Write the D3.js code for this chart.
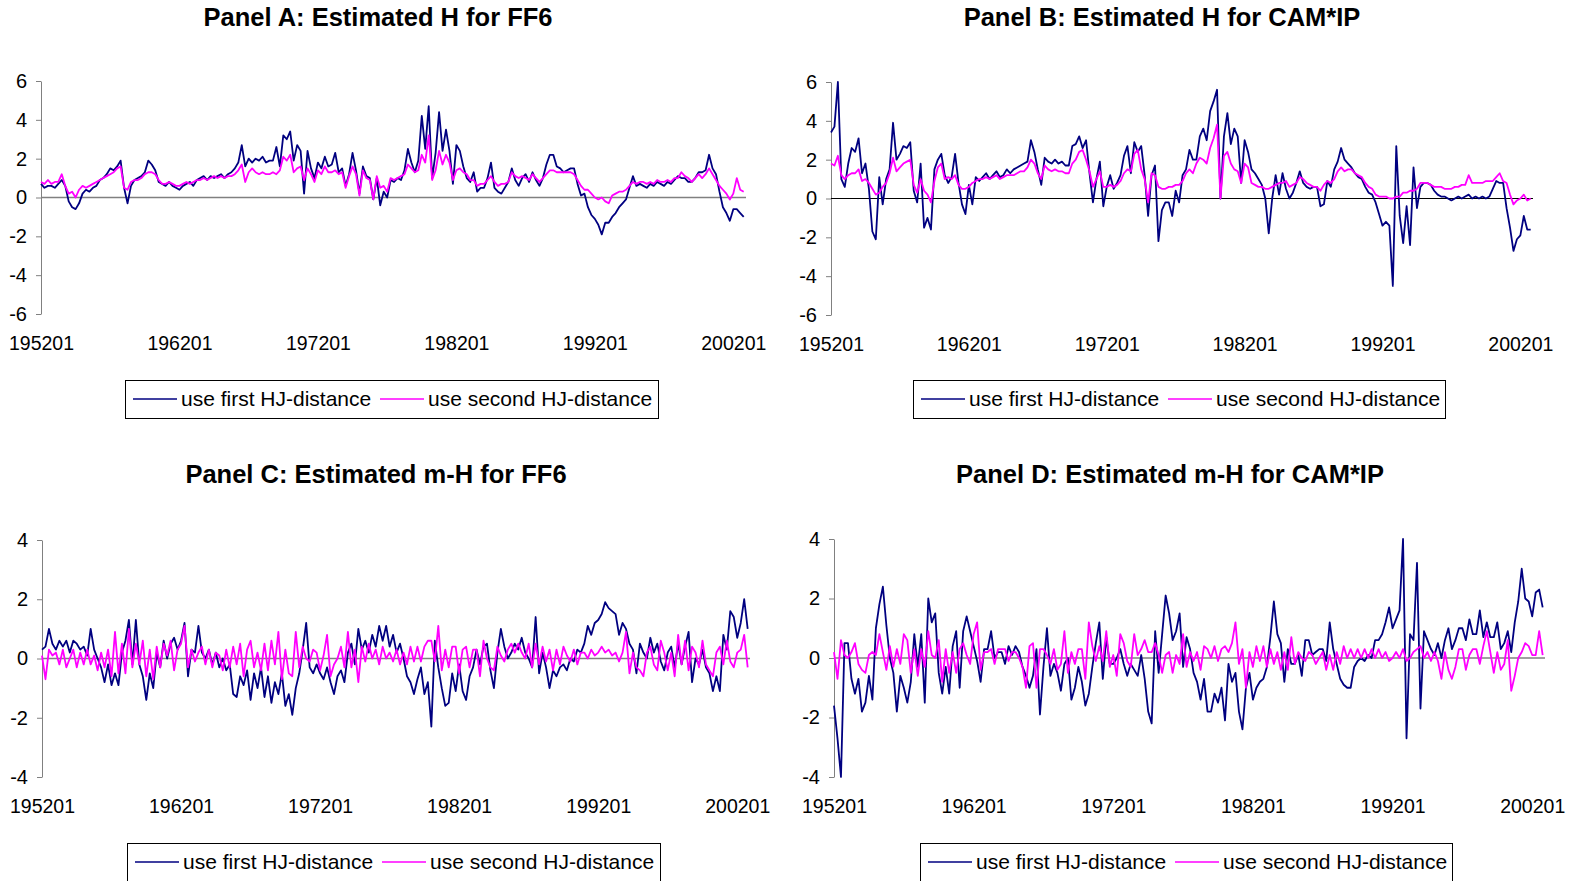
<!DOCTYPE html>
<html>
<head>
<meta charset="utf-8">
<script src="https://cdn.jsdelivr.net/npm/d3@7"></script>
<style>
  body { margin: 0; background: #fff; }
  svg { font-family: Arial, "Liberation Sans", sans-serif; }
</style>
</head>
<body>
<svg id="chart" width="1570" height="881"></svg>
<script>
// quarterly observations, 1952Q1 .. 2002Q4 (204 per series)
const startYear = 1952;
const monthsPerStep = 3;
const lastMonth = 611;
const tickLabels = ['195201', '196201', '197201', '198201', '199201', '200201'];
const seriesNames = ['use first HJ-distance', 'use second HJ-distance'];

const ff6HFirst = [
  0.7,0.5,0.6,0.6, 0.5,0.7,0.9,0.6, -0.2,-0.5,-0.6,-0.3, 0.2,0.4,0.3,0.5, 0.6,0.9,1.0,1.2,
  1.5,1.4,1.6,1.9, 0.5,-0.3,0.6,0.9, 1.0,1.1,1.3,1.9, 1.7,1.4,0.8,0.7, 0.6,0.8,0.6,0.5,
  0.4,0.6,0.7,0.8, 0.6,0.9,1.0,1.1, 0.9,1.1,1.0,1.1, 1.2,1.0,1.2,1.3, 1.5,1.8,2.7,1.6,
  2.0,1.8,2.0,1.9, 2.1,1.8,1.9,1.9, 2.6,1.6,3.2,3.0, 3.4,1.9,2.7,2.4, 0.2,2.4,1.5,1.0,
  1.8,1.5,2.1,1.6, 1.7,2.3,1.3,1.5, 0.6,1.2,2.3,1.4, 0.2,1.6,1.1,1.0, -0.1,1.0,-0.4,0.3,
  0.0,0.9,0.8,1.0, 0.9,1.4,2.5,1.8, 1.3,1.9,4.2,2.5, 4.7,1.0,2.3,4.4, 2.4,3.5,2.4,0.7,
  2.7,2.4,1.6,1.0, 0.8,1.3,0.3,0.5, 0.5,1.0,1.8,0.5, 0.3,0.2,0.5,0.8, 1.5,0.9,0.6,1.0,
  1.2,0.8,1.3,0.9, 0.6,1.0,1.7,2.2, 2.2,1.6,1.5,1.3, 1.4,1.5,1.5,0.7, 0.1,0.2,-0.5,-0.9,
  -1.1,-1.4,-1.9,-1.3, -1.3,-1.0,-0.8,-0.5, -0.3,-0.1,0.5,1.1, 0.6,0.7,0.6,0.5, 0.7,0.6,0.8,0.7,
  0.6,0.8,0.7,0.9, 1.1,1.0,1.0,0.8, 0.8,1.0,1.3,1.3, 1.4,2.2,1.5,1.2, 0.3,-0.5,-0.8,-1.2,
  -0.6,-0.6,-0.8,-1.0
];
const ff6HSecond = [
  0.8,0.7,0.9,0.7, 0.8,0.8,1.2,0.6, 0.2,0.3,0.0,0.4, 0.6,0.5,0.6,0.7, 0.8,0.9,1.0,1.1,
  1.2,1.3,1.5,1.6, 0.5,0.4,0.8,0.9, 0.9,1.0,1.2,1.3, 1.3,1.2,0.9,0.7, 0.7,0.8,0.7,0.6,
  0.6,0.7,0.8,0.7, 0.8,0.9,0.9,1.0, 0.9,1.0,1.1,1.0, 1.1,1.0,1.1,1.1, 1.2,1.4,1.7,0.8,
  1.3,1.5,1.3,1.2, 1.3,1.2,1.2,1.3, 1.2,1.4,2.1,1.9, 2.2,1.3,1.5,1.6, 0.9,1.5,1.2,0.8,
  1.4,1.2,1.6,1.3, 1.3,1.4,1.2,1.3, 0.5,1.1,1.6,1.2, 0.1,1.4,1.0,0.9, -0.1,1.1,0.5,0.6,
  0.3,1.0,0.9,1.0, 1.1,1.2,1.7,1.5, 1.3,1.4,2.2,1.8, 3.2,0.9,1.4,2.4, 1.7,2.2,1.8,0.9,
  1.4,1.5,1.3,1.2, 0.9,0.9,0.6,0.7, 0.7,0.9,1.1,0.8, 0.6,0.7,0.7,0.8, 1.3,1.1,1.0,1.1,
  1.0,0.9,1.2,1.0, 0.8,1.0,1.2,1.4, 1.4,1.3,1.3,1.3, 1.3,1.3,1.2,0.9, 0.6,0.4,0.4,0.2,
  0.0,-0.1,0.0,-0.2, -0.3,0.1,0.2,0.3, 0.3,0.4,0.6,0.8, 0.7,0.8,0.8,0.7, 0.8,0.7,0.9,0.8,
  0.8,0.9,0.8,1.0, 1.0,1.3,1.1,1.0, 0.8,1.0,1.2,1.0, 1.2,1.5,1.2,0.9, 0.6,0.4,0.2,-0.1,
  0.2,1.0,0.4,0.3
];
const camHFirst = [
  3.4,3.7,6.0,1.0, 0.6,1.8,2.6,2.4, 3.1,1.3,1.8,0.5, -1.7,-2.1,1.1,-0.3, 1.0,1.5,3.9,2.0,
  2.3,2.7,2.6,2.9, 0.4,-0.2,1.8,-1.5, -1.0,-1.6,1.5,2.0, 2.3,1.2,0.8,1.1, 2.3,0.8,-0.3,-0.8,
  0.7,-0.3,1.1,0.9, 1.1,1.3,1.0,1.2, 1.4,1.1,1.2,1.5, 1.3,1.5,1.6,1.7, 1.8,1.9,3.0,2.4,
  1.5,0.7,2.1,1.9, 1.8,2.0,1.8,1.9, 1.7,1.7,2.7,2.8, 3.2,2.6,3.0,1.3, -0.2,1.0,1.9,-0.4,
  0.6,1.2,0.5,0.8, 1.2,2.2,2.7,1.3, 2.9,2.4,2.7,1.2, -0.9,1.2,1.7,-2.2, -0.6,-0.2,-0.2,-0.9,
  0.4,-0.2,1.2,1.5, 2.5,2.0,2.0,3.2, 3.6,3.0,4.5,5.0, 5.6,0.0,3.2,4.4, 2.8,3.6,3.2,0.8,
  3.0,2.4,1.5,1.3, 1.0,0.7,0.0,-1.8, 0.0,1.2,0.2,1.3, 0.5,0.0,0.3,0.8, 1.4,0.8,0.6,0.5,
  0.6,0.6,-0.4,-0.3, 0.9,0.6,1.5,1.9, 2.6,2.0,1.8,1.6, 1.3,1.1,1.0,0.6, 0.3,0.2,-0.2,-0.8,
  -1.4,-1.2,-1.4,-4.5, 2.7,-0.9,-2.3,-0.4, -2.4,1.6,-0.5,0.6, 0.8,0.8,0.7,0.4, 0.2,0.1,0.1,0.0,
  -0.1,0.0,0.1,0.0, 0.1,0.2,0.0,0.1, 0.0,0.1,0.0,0.1, 0.5,0.9,0.8,0.8, -0.5,-1.5,-2.7,-2.1,
  -1.9,-0.9,-1.6,-1.6
];
const camHSecond = [
  1.8,1.7,2.2,1.2, 1.0,1.2,1.3,1.3, 1.5,0.9,1.0,0.8, 0.5,0.2,0.3,0.6, 0.8,1.3,2.1,1.4,
  1.6,1.8,1.9,2.0, 0.7,0.3,1.0,0.4, 0.2,-0.2,0.9,1.6, 1.8,1.0,1.1,1.0, 1.2,0.7,0.5,0.5,
  0.6,0.8,0.9,1.0, 1.0,1.1,1.0,1.1, 1.2,1.0,1.1,1.2, 1.2,1.2,1.3,1.4, 1.4,1.6,2.0,1.8,
  1.3,1.0,1.7,1.5, 1.4,1.5,1.4,1.4, 1.3,1.3,1.8,2.0, 2.4,2.5,2.0,1.4, 0.6,1.0,1.4,0.6,
  0.6,0.7,0.6,0.7, 0.9,1.3,1.5,1.4, 2.3,2.5,1.5,1.0, -0.2,1.3,1.2,0.6, 0.5,0.5,0.6,0.6,
  0.7,0.7,0.9,1.3, 1.5,1.3,1.8,2.1, 2.0,1.8,2.6,3.1, 3.8,0.0,2.2,2.4, 1.8,1.5,1.4,0.8,
  1.8,1.6,0.8,0.7, 0.6,0.6,0.5,0.5, 0.6,0.7,0.8,0.8, 0.9,0.6,0.7,0.8, 1.1,1.0,0.8,0.7,
  0.6,0.6,0.4,0.7, 0.9,0.8,1.0,1.4, 1.6,1.4,1.5,1.5, 1.3,1.2,1.1,0.8, 0.6,0.5,0.2,0.1,
  0.1,0.1,0.0,0.0, 0.1,0.1,0.3,0.3, 0.4,0.4,0.5,0.8, 0.8,0.8,0.7,0.6, 0.6,0.6,0.5,0.5,
  0.5,0.6,0.6,0.7, 0.7,1.2,0.8,0.8, 0.8,0.8,0.9,0.9, 0.9,1.1,1.3,0.9, 0.8,0.2,-0.3,-0.1,
  0.0,0.2,-0.1,0.0
];
const ff6MHFirst = [
  0.3,0.4,1.0,0.5, 0.3,0.6,0.4,0.6, 0.2,0.6,0.5,0.3, 0.4,0.1,1.0,0.3, 0.0,-0.3,-0.8,-0.2,
  -0.9,-0.5,-0.9,0.2, 0.6,1.3,-0.2,1.3, -0.2,-0.6,-1.4,-0.5, -1.0,0.2,-0.3,0.6, 0.0,0.5,0.7,0.3,
  0.6,1.2,-0.6,0.3, 0.2,1.1,0.2,0.0, 0.3,-0.2,0.2,-0.3, 0.0,-0.4,-0.2,-1.2, -1.3,-0.6,-0.9,-0.4,
  -1.4,-0.5,-1.0,-0.3, -1.3,-0.6,-1.5,-0.8, -1.2,-0.5,-1.6,-1.2, -1.9,-1.0,-0.5,0.3, 1.2,-0.3,-0.5,-0.2,
  -0.5,-0.7,-0.3,-0.8, -1.2,-0.6,-0.4,-0.8, 0.2,0.5,-0.2,1.0, 0.3,0.6,0.2,0.8, 0.4,1.1,0.6,1.1,
  0.4,0.8,0.2,0.5, 0.0,-0.6,-0.8,-1.2, -0.7,-0.3,-1.2,-0.8, -2.3,0.6,-0.3,-1.0, -1.6,-1.5,-0.5,-1.1,
  -0.2,-1.1,-1.4,-0.6, -0.3,0.3,-0.2,0.4, 0.5,-0.4,-1.0,0.2, 1.0,0.4,0.0,0.2, 0.5,0.3,0.7,0.2,
  0.0,-0.3,1.4,-0.5, 0.2,-0.3,-1.0,-0.4, -0.6,-0.3,-0.2,-0.4, 0.0,-0.1,0.3,0.2, 0.5,1.1,0.8,1.2,
  1.3,1.5,1.9,1.7, 1.6,1.5,0.8,1.2, 1.0,0.5,0.3,-0.5, 0.5,0.2,0.0,0.7, 0.2,0.5,-0.1,-0.4,
  0.2,0.4,-0.3,0.5, -0.2,0.4,0.9,-0.8, 0.0,-0.2,0.3,-0.3, -0.5,-1.1,-0.6,-1.1, 0.8,0.3,1.6,1.4,
  0.7,1.2,2.0,1.0
];
const ff6MHSecond = [
  0.1,-0.7,0.3,0.1, 0.2,-0.2,0.3,-0.3, 0.0,0.3,-0.3,0.2, -0.2,0.3,-0.2,0.1, -0.4,0.2,-0.3,0.3,
  -0.6,0.9,-0.5,0.5, -0.5,1.0,-0.3,0.5, -0.2,0.6,-0.6,0.3, -0.7,0.4,-0.3,0.5, 0.1,0.6,-0.4,0.3,
  0.5,1.1,-0.3,0.3, -0.1,0.2,0.4,-0.2, 0.3,-0.3,0.2,0.1, -0.4,0.3,-0.3,0.4, -0.2,0.5,-0.6,0.3,
  0.6,-0.3,0.2,-0.4, 0.5,-0.4,0.6,-0.2, 0.9,-0.7,0.3,-0.5, -0.6,0.9,-0.3,0.4, 0.0,-0.1,0.3,0.2,
  -0.4,0.1,0.8,-0.6, -0.2,0.0,0.4,-0.3, 0.9,-0.3,0.3,-0.8, 0.4,-0.1,0.5,0.0, 0.3,-0.2,0.4,0.0,
  0.2,-0.1,0.3,-0.2, 0.2,-0.2,0.4,-0.1, 0.4,-0.1,0.4,0.6, 0.6,-0.1,1.1,-0.4, 0.3,-0.3,0.4,0.4,
  -0.5,0.3,0.4,-0.3, 0.3,0.3,-0.6,0.6, 0.0,-0.3,-0.4,0.4, 0.1,-0.1,0.3,0.5, 0.2,0.5,0.2,0.0,
  0.5,-0.3,0.5,-0.2, 0.4,-0.1,0.3,-0.4, 0.3,-0.2,0.4,0.1, -0.1,0.3,-0.2,0.2, 0.2,0.0,0.3,0.1,
  0.2,0.4,0.2,0.3, 0.1,0.2,-0.1,0.2, 0.9,-0.5,0.2,-0.3, -0.4,-0.6,0.2,0.4, -0.2,-0.4,0.6,0.2,
  -0.4,0.2,-0.6,0.8, -0.2,0.6,-0.4,0.4, 0.2,-0.3,0.6,-0.2, -0.4,-0.6,0.2,0.4, -0.2,0.6,-0.1,-0.3,
  0.2,0.3,0.8,-0.3
];
const camMHFirst = [
  -1.6,-2.7,-4.0,0.5, 0.5,-0.7,-1.2,-0.7, -1.8,-1.5,-0.6,-1.4, 1.0,1.8,2.4,1.1, 0.0,-0.5,-1.8,-0.6,
  -1.0,-1.5,-0.8,0.8, -0.3,0.8,-1.5,2.0, 1.2,1.5,-0.5,-1.2, -0.3,-1.2,0.4,0.9, -1.0,0.9,1.4,0.9,
  0.4,-0.1,-0.8,0.3, 0.3,0.9,0.0,0.2, 0.2,-0.2,0.4,0.1, 0.4,0.2,-0.3,-0.6, -1.0,-0.6,0.3,-1.9,
  -0.3,1.0,-0.6,-0.2, -0.5,-1.1,-0.2,0.0, -1.4,-1.0,-0.3,-0.8, -1.6,-1.2,-0.3,0.5, 1.2,-0.7,0.7,-0.2,
  -0.2,0.0,0.3,-0.2, -0.6,-0.2,-0.4,-0.6, 0.1,-0.7,-1.8,-2.2, 0.9,-0.5,0.8,2.1, 1.5,0.6,0.9,1.5,
  -0.3,0.7,0.3,-0.5, -0.8,-1.4,-0.7,-1.8, -1.8,-1.2,-1.5,-1.0, -2.1,-0.2,-0.8,-0.5, -1.8,-2.4,-1.0,-0.5,
  -1.4,-1.0,-0.8,-0.7, -0.3,0.7,1.9,0.8, 0.5,-0.8,0.3,-0.2, -0.2,0.1,-0.6,0.6, 0.6,0.1,0.2,0.3,
  0.3,-0.1,1.2,0.3, -0.2,-0.7,-0.9,-1.0, -1.0,-0.3,-0.1,0.0, -0.1,0.1,0.0,0.6, 0.6,0.8,1.2,1.7,
  1.0,1.3,1.6,4.0, -2.7,0.8,0.6,3.2, -1.7,0.9,0.6,0.3, 0.1,0.5,0.0,0.6, 1.0,0.3,0.6,1.0,
  1.0,0.6,1.3,0.8, 0.8,1.6,0.7,1.2, 0.7,0.7,1.2,0.3, 0.5,0.9,0.2,1.2, 1.9,3.0,2.0,1.9,
  1.4,2.2,2.3,1.7
];
const camMHSecond = [
  0.2,-0.7,0.6,0.1, 0.0,0.2,0.5,-0.2, -0.4,-0.5,0.1,0.2, 0.1,0.8,0.2,-0.4, 0.4,-0.3,0.3,-0.2,
  0.8,0.6,-0.5,0.3, -0.6,0.3,-0.3,0.9, 0.1,0.0,0.6,-0.8, 0.3,-0.5,0.2,-0.5, 0.3,0.5,0.1,-0.2,
  0.8,1.2,-0.4,0.2, 0.2,0.3,-0.2,0.3, 0.3,0.3,-0.1,0.2, 0.2,0.0,-0.3,-1.0, 0.4,0.5,-1.0,0.3,
  0.3,0.1,-0.2,0.3, -0.4,-0.2,0.9,-0.5, 0.2,-0.2,0.3,0.3, -0.7,1.2,0.4,-0.1, 0.4,-0.1,0.9,-0.3,
  0.1,-0.6,0.8,0.5, -0.1,-0.3,0.8,0.1, 0.3,0.6,0.2,0.2, 0.5,0.1,-0.5,0.1, 0.2,-0.5,0.1,-0.2,
  0.8,-0.3,0.2,-0.1, 0.2,-0.4,0.4,0.3, 0.0,0.4,-0.1,0.3, 0.4,0.2,0.5,1.2, -0.2,0.3,-1.0,0.2,
  -0.3,0.4,-0.1,0.4, -0.3,0.3,-0.2,0.2, -0.4,0.2,-0.4,0.7, -0.2,0.2,0.0,-0.1, 0.2,0.1,-0.2,0.0,
  0.2,-0.4,0.1,-0.4, 0.2,-0.2,0.4,0.0, 0.3,0.0,0.3,0.0, 0.3,0.0,0.3,0.0, 0.3,0.0,0.2,-0.1,
  0.0,0.2,0.0,0.3, -0.1,0.0,0.2,0.3, 0.4,0.0,0.2,-0.1, 0.2,-0.1,-0.7,0.2, -0.4,-0.7,-0.3,0.3,
  0.3,-0.4,0.1,0.3, 0.3,-0.2,0.4,0.9, 0.2,-0.5,0.2,-0.4, -0.2,0.6,-1.1,-0.6, 0.0,0.2,0.5,0.4,
  0.1,0.1,0.9,0.1
];

const colors = ['#000080', '#ff00ff'];

const panels = [
  { title: 'Panel A: Estimated H for FF6', series: [ff6HFirst, ff6HSecond],
    yDomain: [-6, 6], yTicks: [-6, -4, -2, 0, 2, 4, 6],
    x0: 41, x1: 746, yTop: 81, yBottom: 314, titleX: 378, titleY: 26,
    legendX: 125, legendY: 380, legendW: 533, zeroColor: '#808080', zeroWidth: 1.5 },
  { title: 'Panel B: Estimated H for CAM*IP', series: [camHFirst, camHSecond],
    yDomain: [-6, 6], yTicks: [-6, -4, -2, 0, 2, 4, 6],
    x0: 831, x1: 1533, yTop: 82, yBottom: 315, titleX: 1162, titleY: 26,
    legendX: 913, legendY: 380, legendW: 532, zeroColor: '#000', zeroWidth: 1 },
  { title: 'Panel C: Estimated m-H for FF6', series: [ff6MHFirst, ff6MHSecond],
    yDomain: [-4, 4], yTicks: [-4, -2, 0, 2, 4],
    x0: 42, x1: 750, yTop: 540, yBottom: 777, titleX: 376, titleY: 483,
    legendX: 127, legendY: 843, legendW: 533, zeroColor: '#808080', zeroWidth: 1.5 },
  { title: 'Panel D: Estimated m-H for CAM*IP', series: [camMHFirst, camMHSecond],
    yDomain: [-4, 4], yTicks: [-4, -2, 0, 2, 4],
    x0: 834, x1: 1545, yTop: 539, yBottom: 777, titleX: 1170, titleY: 483,
    legendX: 920, legendY: 843, legendW: 532, zeroColor: '#808080', zeroWidth: 1.5 }
];

const svg = d3.select('#chart');

panels.forEach(p => {
  const g = svg.append('g');

  const x = d3.scaleLinear().domain([0, lastMonth]).range([p.x0, p.x1]);
  const y = d3.scaleLinear().domain(p.yDomain).range([p.yBottom, p.yTop]);

  g.append('text')
    .attr('x', p.titleX).attr('y', p.titleY)
    .attr('text-anchor', 'middle')
    .style('font-size', '25.5px').style('font-weight', 'bold')
    .text(p.title);

  // y axis
  const yAxis = g.append('g')
    .attr('transform', `translate(${p.x0},0)`)
    .call(d3.axisLeft(y).tickValues(p.yTicks).tickFormat(d3.format('d'))
      .tickSize(5).tickSizeOuter(0).tickPadding(9));
  yAxis.select('.domain').attr('stroke', '#808080');
  yAxis.selectAll('.tick line').attr('stroke', '#808080');
  yAxis.selectAll('text').style('font-size', '20px').attr('fill', '#000')
    .text(d => d < 0 ? '-' + Math.abs(d) : d);

  // category labels along the bottom
  const tickMonths = tickLabels.map(l => (+l.slice(0, 4) - startYear) * 12);
  const xAxis = g.append('g')
    .attr('transform', `translate(0,${p.yBottom})`)
    .call(d3.axisBottom(x).tickValues(tickMonths)
      .tickFormat((d, i) => tickLabels[i]).tickSize(0).tickPadding(22));
  xAxis.select('.domain').remove();
  xAxis.selectAll('text').style('font-size', '19.5px').attr('fill', '#000');

  // zero line
  g.append('line')
    .attr('x1', x(0)).attr('x2', x(lastMonth))
    .attr('y1', y(0)).attr('y2', y(0))
    .attr('stroke', p.zeroColor).attr('stroke-width', p.zeroWidth);

  const line = d3.line()
    .x((d, i) => x(i * monthsPerStep))
    .y(d => y(d));

  p.series.forEach((s, k) => {
    g.append('path')
      .datum(s)
      .attr('fill', 'none')
      .attr('stroke', colors[k])
      .attr('stroke-width', 1.8)
      .attr('stroke-linejoin', 'round')
      .attr('d', line);
  });

  // legend
  const lg = g.append('g').attr('transform', `translate(${p.legendX},${p.legendY})`);
  lg.append('rect')
    .attr('x', 0.5).attr('y', 0.5)
    .attr('width', p.legendW).attr('height', 38)
    .attr('fill', '#fff').attr('stroke', '#000').attr('stroke-width', 1);
  const offsets = [8, 255];
  seriesNames.forEach((name, k) => {
    lg.append('line')
      .attr('x1', offsets[k]).attr('x2', offsets[k] + 44)
      .attr('y1', 19).attr('y2', 19)
      .attr('stroke', colors[k]).attr('stroke-width', 1.6);
    lg.append('text')
      .attr('x', offsets[k] + 48).attr('y', 26)
      .style('font-size', '21px')
      .text(name);
  });
});
</script>
</body>
</html>
